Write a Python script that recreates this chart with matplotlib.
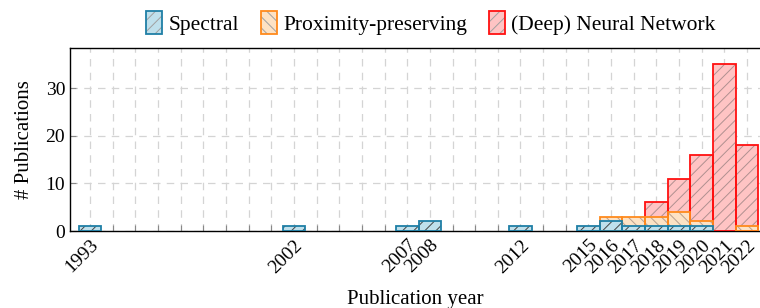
import matplotlib.pyplot as plt
import matplotlib.patches as mpatches
import numpy as np

# publications per year for each approach family (overlaid, not stacked)
years = list(range(1993, 2023))
spectral_years = [1993, 2002, 2007, 2008, 2012, 2015, 2016, 2017, 2018, 2019, 2020]
spectral_counts = [1, 1, 1, 2, 1, 1, 2, 1, 1, 1, 1]
proximity_years = [2016, 2017, 2018, 2019, 2020, 2022]
proximity_counts = [3, 3, 3, 4, 2, 1]
neural_years = [2018, 2019, 2020, 2021, 2022]
neural_counts = [6, 11, 16, 35, 18]
labeled_years = [1993, 2002, 2007, 2008, 2012, 2015, 2016, 2017,
                 2018, 2019, 2020, 2021, 2022]

plt.rcParams['font.family'] = ['Liberation Serif', 'DejaVu Serif']
plt.rcParams['hatch.linewidth'] = 0.7

fig = plt.figure(figsize=(7.6, 3.08), dpi=100)
ax = fig.add_axes([70 / 760, 77 / 308, 1 - 70 / 760, 183 / 308])

series = [
    ('(Deep) Neural Network', neural_years, neural_counts, '#ffc4c4', '#ff1010', '#b09090', '///'),
    ('Proximity-preserving', proximity_years, proximity_counts, '#fde2c4', '#ff8a1c', '#b8a090', '\\\\\\'),
    ('Spectral', spectral_years, spectral_counts, '#bfe0ec', '#1f7fa6', '#444444', '///'),
]

handles = {}
for name, xs, ys, fill, edge, hcol, hatch in series:
    ax.bar(xs, ys, width=1.0, color=fill, edgecolor=hcol, linewidth=0,
           hatch=hatch, zorder=2)
    ax.bar(xs, ys, width=1.0, fill=False, edgecolor=edge, linewidth=1.3, zorder=3)
    p_fill = mpatches.Patch(facecolor=fill, edgecolor='#a0a0a0', linewidth=0, hatch=hatch)
    p_edge = mpatches.Patch(fill=False, edgecolor=edge, linewidth=1.3)
    handles[name] = (p_fill, p_edge)

ax.set_xlim(1992.12, 2022.57)
ax.set_ylim(0, 38.4)

ax.set_xticks(years)
ax.set_xticklabels([str(y) if y in labeled_years else '' for y in years],
                   rotation=45, ha='right', rotation_mode='anchor', fontsize=14)
ax.set_yticks([0, 10, 20, 30])
ax.tick_params(axis='y', labelsize=14, direction='in', length=4, color='#888888')
ax.tick_params(axis='x', direction='in', length=4, color='#888888', pad=4)

ax.grid(True, color='#d4d4d4', linestyle=(0, (6, 5)), linewidth=0.9, zorder=0)
ax.set_axisbelow(True)

ax.spines['right'].set_visible(False)
for s in ['left', 'top', 'bottom']:
    ax.spines[s].set_linewidth(1.0)
    ax.spines[s].set_color('black')

ax.set_xlabel('Publication year', fontsize=15, labelpad=10)
ax.set_ylabel('# Publications', fontsize=15, labelpad=8)

order = ['Spectral', 'Proximity-preserving', '(Deep) Neural Network']
fig.legend([handles[k] for k in order], order, loc='center',
           bbox_to_anchor=(431 / 760, 1 - 23 / 308), ncol=3, frameon=False,
           fontsize=15.5, handlelength=0.75, handleheight=1.3,
           handletextpad=0.3, columnspacing=1.0)

fig.savefig('out.png', dpi=100)
